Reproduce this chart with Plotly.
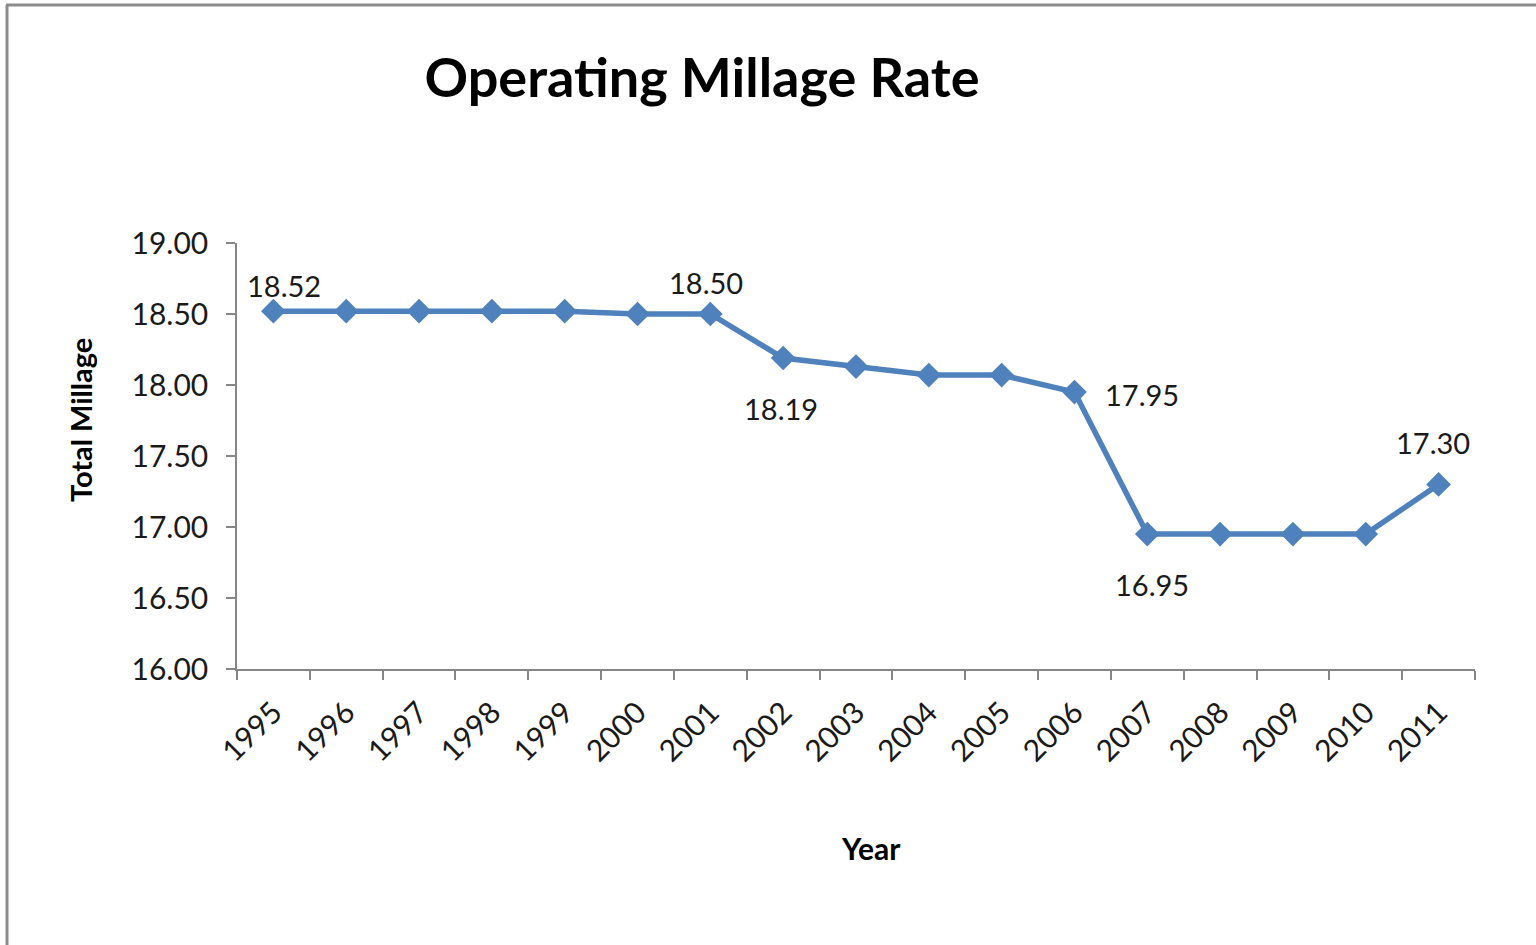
import plotly.graph_objects as go

years = [str(y) for y in range(1995, 2012)]
millage = [18.52, 18.52, 18.52, 18.52, 18.52, 18.50, 18.50, 18.19, 18.13,
           18.07, 18.07, 17.95, 16.95, 16.95, 16.95, 16.95, 17.30]
y_ticks = [16.0, 16.5, 17.0, 17.5, 18.0, 18.5, 19.0]
labelled_years = ["1995", "2001", "2002", "2006", "2007", "2011"]

# pixel offsets of the data labels (style, not data)
label_offsets = {"1995": (11, 26), "2001": (-4, 32), "2002": (-2, -50),
                 "2006": (68, -2), "2007": (5, -50), "2011": (-6, 42)}

W, H = 1536, 945
L, R, T, B = 237, 61, 243, 276
FONT = "Lato"
BLUE = "#4F81BD"
GRAY = "#868686"
TXT = "#1a1a1a"

fig = go.Figure()
fig.add_trace(go.Scatter(
    x=years, y=millage, mode="lines+markers",
    line=dict(color=BLUE, width=5.5),
    marker=dict(symbol="diamond", size=19, color=BLUE),
    showlegend=False, cliponaxis=False,
))

for yr in labelled_years:
    i = years.index(yr)
    v = millage[i]
    dx, dy = label_offsets[yr]
    fig.add_annotation(x=i, y=v, xref="x", yref="y", text=f"{v:.2f}",
                       showarrow=False, xshift=dx, yshift=dy,
                       xanchor="center", yanchor="middle",
                       font=dict(family=FONT, size=29, color=TXT))

pw, ph = W - L - R, H - T - B
def px(x):
    return (x - L) / pw
def py(y):
    return (H - B - y) / ph

# chart frame (left and top edges)
fig.add_shape(type="line", xref="paper", yref="paper",
              x0=px(7), y0=py(H), x1=px(7), y1=py(5),
              line=dict(color="#8c8c8c", width=3))
fig.add_shape(type="line", xref="paper", yref="paper",
              x0=px(6), y0=py(5), x1=px(W), y1=py(5),
              line=dict(color="#8c8c8c", width=3))

fig.add_annotation(xref="paper", yref="paper", x=px(80), y=py(420),
                   xanchor="center", yanchor="middle",
                   text="<b>Total Millage</b>", textangle=-90, showarrow=False,
                   font=dict(family=FONT, size=29, color="#000"))
fig.add_annotation(xref="paper", yref="paper", x=px(871), y=py(848),
                   xanchor="center", yanchor="middle",
                   text="<b>Year</b>", showarrow=False,
                   font=dict(family=FONT, size=30, color="#000"))

fig.update_layout(
    width=W, height=H,
    margin=dict(l=L, r=R, t=T, b=B, pad=0),
    paper_bgcolor="white", plot_bgcolor="white",
    title=dict(text="<b>Operating Millage Rate</b>", xref="container", yref="container",
               x=702 / W, xanchor="center", y=1 - 78 / H, yanchor="middle",
               font=dict(family=FONT, size=54, color="#000")),
    xaxis=dict(type="category", tickson="boundaries", ticks="outside", ticklen=9,
               tickcolor=GRAY, tickwidth=1.5, showline=True, linecolor=GRAY, linewidth=1.5,
               showgrid=False, tickangle=-45, ticklabelstandoff=12,
               tickfont=dict(family=FONT, size=30, color=TXT),
               range=[-0.5, len(years) - 0.5]),
    yaxis=dict(range=[16, 19], tickvals=y_ticks, tickformat=".2f", ticks="outside",
               ticklen=9, tickcolor=GRAY, tickwidth=1.5, showline=True, linecolor=GRAY,
               linewidth=1.5, showgrid=False, zeroline=False, ticklabelstandoff=12,
               tickfont=dict(family=FONT, size=30, color=TXT)),
)

fig.write_html("out.html")
